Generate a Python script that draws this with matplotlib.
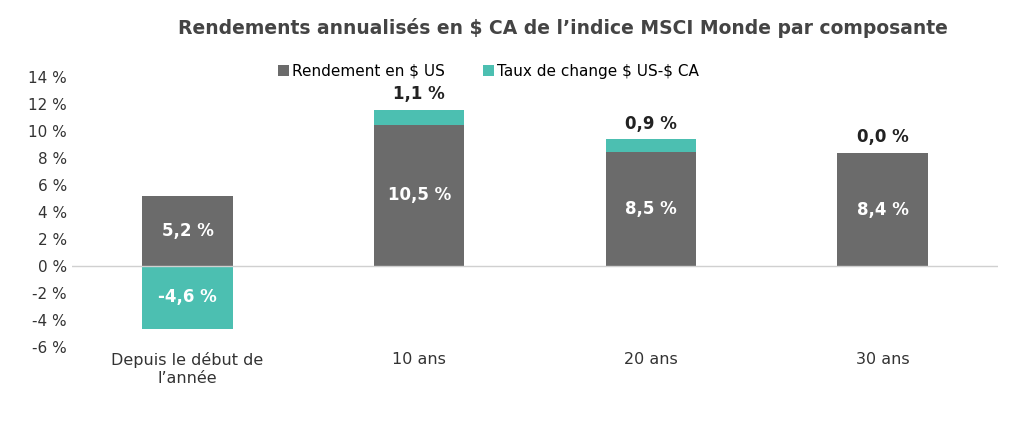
import matplotlib
matplotlib.use("Agg")
import matplotlib.pyplot as plt
import numpy as np

plt.rcParams["text.usetex"] = False
categories = ["Depuis le début de\nl’année", "10 ans", "20 ans", "30 ans"]
usd_return = [5.2, 10.5, 8.5, 8.4]
fx_effect = [-4.6, 1.1, 0.9, 0.0]
yticks = [-6, -4, -2, 0, 2, 4, 6, 8, 10, 12, 14]

gray = "#6b6b6b"; teal = "#4cbfb1"
fig = plt.figure(figsize=(10.24, 4.29), dpi=100)
ax = fig.add_axes([0.07, 0.19, 0.905, 0.63])
x = np.arange(len(categories))
w = 0.39
ax.bar(x, usd_return, w, color=gray, label=r"Rendement en \$ US")
bottoms = [u if f >= 0 else 0 for u, f in zip(usd_return, fx_effect)]
ax.bar(x, fx_effect, w, bottom=bottoms, color=teal, label=r"Taux de change \$ US-\$ CA")
fmt = lambda v: f"{v:.1f} %".replace(".", ",")
for i, (u, f) in enumerate(zip(usd_return, fx_effect)):
    ax.text(i, u / 2, fmt(u), ha="center", va="center", color="white", fontsize=12, fontweight="semibold")
    if f >= 0:
        ax.text(i, u + f + 0.5, fmt(f), ha="center", va="bottom", color="#222222", fontsize=12, fontweight="semibold")
    else:
        ax.text(i, f / 2, fmt(f), ha="center", va="center", color="white", fontsize=12, fontweight="semibold")
ax.set_ylim(-6, 14)
ax.set_xlim(-0.5, 3.5)
ax.set_yticks(yticks)
ax.set_yticklabels([f"{t} %" for t in yticks], fontsize=11, color="#333333")
ax.set_xticks(x)
ax.set_xticklabels(categories, fontsize=11.5, color="#333333")
ax.tick_params(length=0)
for s in ax.spines.values():
    s.set_visible(False)
ax.axhline(0, color="#d0d0d0", lw=1)
ax.legend(loc="upper center", bbox_to_anchor=(0.45, 1.1), ncol=2, frameon=False,
          fontsize=11, handlelength=0.7, handletextpad=0.2, columnspacing=2.5)
fig.text(0.55, 0.92, "Rendements annualisés en $ CA de l’indice MSCI Monde par composante",
         ha="center", fontsize=13.5, fontweight="bold", color="#444444")
fig.savefig("out.png", dpi=100)
